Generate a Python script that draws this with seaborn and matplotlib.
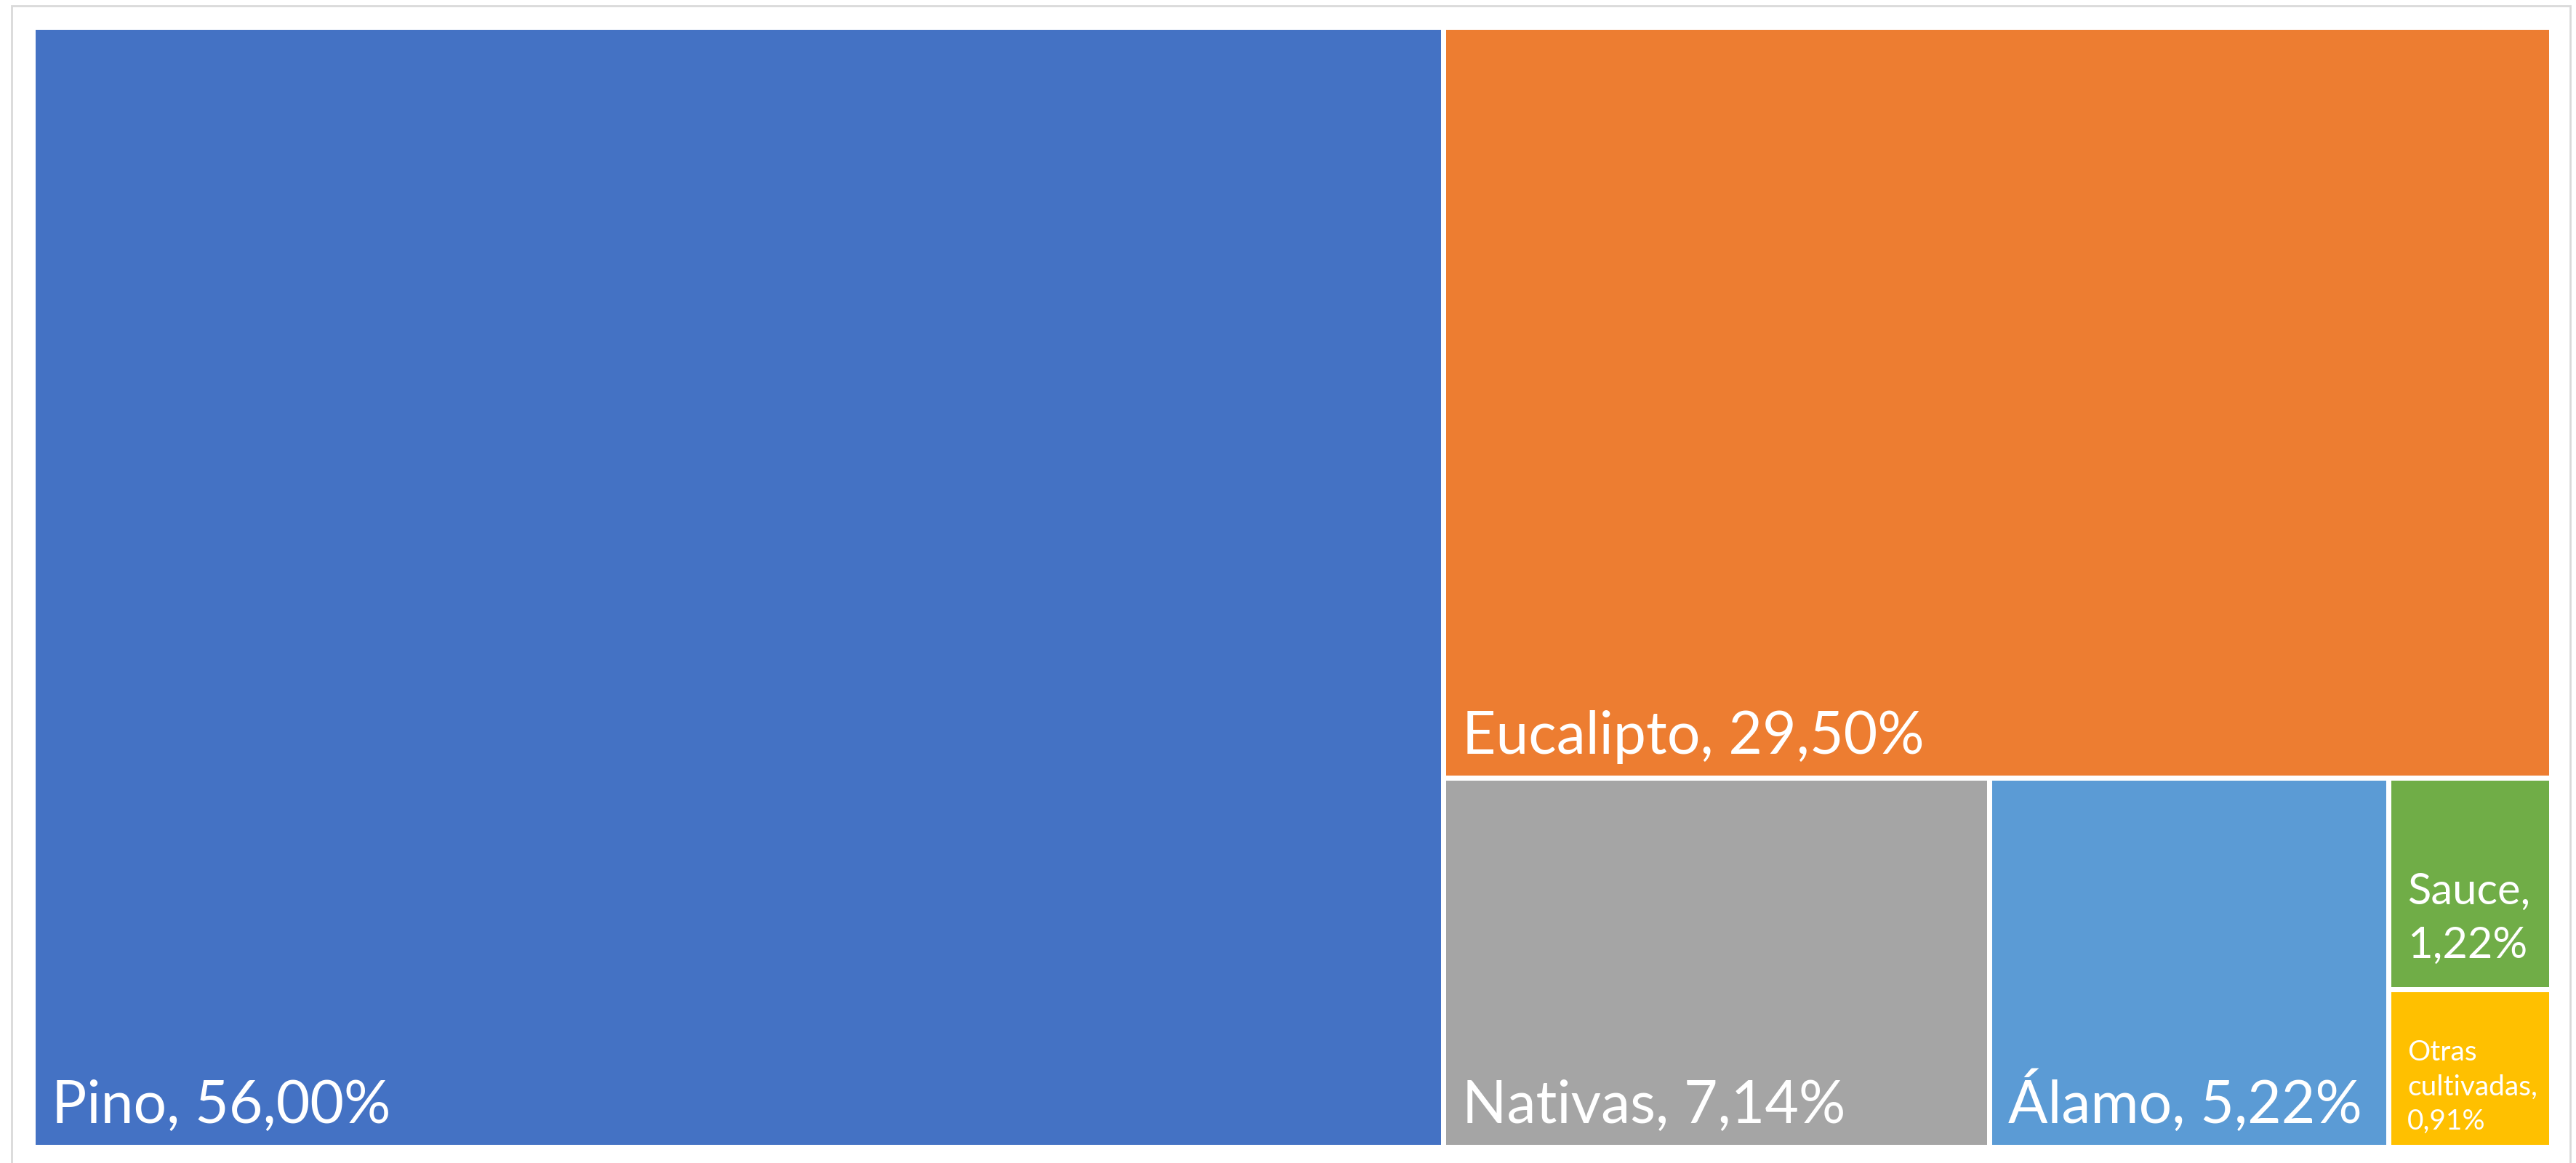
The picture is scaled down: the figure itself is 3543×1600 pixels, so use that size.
import matplotlib
matplotlib.use("Agg")
import matplotlib.pyplot as plt
from matplotlib.patches import Rectangle
import seaborn as sns

# data
species = ["Pino", "Eucalipto", "Nativas", "Álamo", "Sauce", "Otras cultivadas"]
shares = [56.00, 29.50, 7.14, 5.22, 1.22, 0.91]
labels = ["Pino, 56,00%", "Eucalipto, 29,50%", "Nativas, 7,14%", "Álamo, 5,22%",
          "Sauce,\n1,22%", "Otras\ncultivadas,\n0,91%"]

# styling
colors = ["#4472C4", "#ED7D31", "#A5A5A5", "#5B9BD5", "#70AD47", "#FFC000"]
font_sizes = [58, 58, 58, 58, 43, 28]
line_spacing = [1.2, 1.2, 1.2, 1.2, 1.45, 1.4]
bottom_pad = [16, 16, 16, 16, 30, 14]

W, H = 3543, 1600
GAP = 7


def worst(row, side):
    s = sum(row)
    return max(max(side * side * r / (s * s), s * s / (side * side * r)) for r in row)


def squarify(values, x, y, w, h):
    """Squarified treemap, values already scaled to area."""
    rects = []
    vals = list(values)
    while vals:
        side = min(w, h)
        row = [vals[0]]
        i = 1
        while i < len(vals) and worst(row + [vals[i]], side) <= worst(row, side):
            row.append(vals[i])
            i += 1
        vals = vals[i:]
        s = sum(row)
        if w >= h:
            # column on the left
            cw = s / h
            cy = y
            for r in row:
                rh = r / cw
                rects.append((x, cy, cw, rh))
                cy += rh
            x += cw
            w -= cw
        else:
            # row on top
            rh = s / w
            cx = x
            for r in row:
                rw = r / rh
                rects.append((cx, y, rw, rh))
                cx += rw
            y += rh
            h -= rh
    return rects


sns.set_theme(style="white")
plt.rcParams["font.family"] = ["Lato", "DejaVu Sans"]

fig = plt.figure(figsize=(W / 100, H / 100), dpi=100)
fig.patch.set_facecolor("white")

# outer chart frame
fig.patches.append(Rectangle((16 / W, -0.01), (3535 - 16) / W, (H - 8) / H + 0.01,
                             transform=fig.transFigure, fill=False,
                             edgecolor="#D9D9D9", lw=2))

left, right, top, bottom = 45.5, 3509.5, 37.5, 1578.5
aw, ah = right - left, bottom - top
ax = fig.add_axes([left / W, (H - bottom) / H, aw / W, ah / H])
ax.set_xlim(0, aw)
ax.set_ylim(ah, 0)
ax.axis("off")

total = sum(shares)
areas = [v / total * aw * ah for v in shares]
rects = squarify(areas, 0, 0, aw, ah)

for (x, y, w, h), c, lab, fs, ls, bp in zip(rects, colors, labels, font_sizes,
                                            line_spacing, bottom_pad):
    ax.add_patch(Rectangle((x + GAP / 2, y + GAP / 2), w - GAP, h - GAP,
                           facecolor=c, edgecolor="none"))
    ax.text(x + GAP / 2 + 22, y + h - GAP / 2 - bp, lab, color="white",
            fontsize=fs, ha="left", va="bottom", linespacing=ls)

fig.savefig("out.png", dpi=100, facecolor="white")
